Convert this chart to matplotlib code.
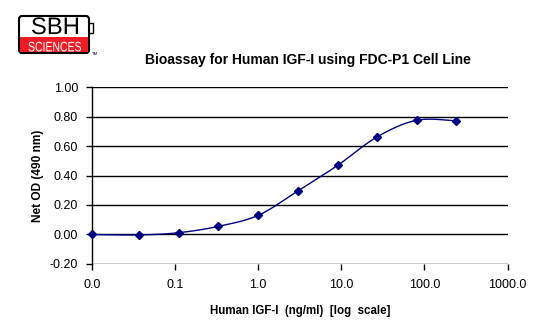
"""Bioassay curve for human IGF-I on the FDC-P1 cell line."""

import numpy as np
from matplotlib import pyplot as plt
from matplotlib.font_manager import FontProperties
from matplotlib.patches import FancyBboxPatch, PathPatch, Rectangle
from matplotlib.textpath import TextPath
from matplotlib.ticker import FixedLocator, FuncFormatter, NullLocator
from matplotlib.transforms import Affine2D

plt.rcParams["font.family"] = ["Liberation Sans", "DejaVu Sans"]

# 3-fold dilution series; the blank (0 ng/ml) sits on the axis origin at 0.01
conc_ng_ml = [0.01, 0.037, 0.11, 0.33, 1.0, 3.0, 9.0, 27.0, 81.0, 243.0]
net_od = [0.00, -0.003, 0.012, 0.055, 0.13, 0.295, 0.468, 0.662, 0.775, 0.770]

x_ticks = [0.01, 0.1, 1.0, 10.0, 100.0, 1000.0]
y_ticks = [-0.2, 0.0, 0.2, 0.4, 0.6, 0.8, 1.0]

NAVY = "#000080"


def smooth_curve(xs, ys, px_per_decade=83.0, px_per_unit=147.5, n=30):
    """Excel-style smoothed line: Catmull-Rom through the points in pixel space."""
    p = np.column_stack([np.log10(xs) * px_per_decade, np.asarray(ys) * px_per_unit])
    p = np.vstack([p[0], p, p[-1]])
    out = []
    t = np.linspace(0, 1, n)[:, None]
    for i in range(1, len(p) - 2):
        p0, p1, p2, p3 = p[i - 1], p[i], p[i + 1], p[i + 2]
        c1 = p1 + (p2 - p0) / 6
        c2 = p2 - (p3 - p1) / 6
        seg = ((1 - t) ** 3) * p1 + 3 * ((1 - t) ** 2) * t * c1 + 3 * (1 - t) * t ** 2 * c2 + t ** 3 * p2
        out.append(seg if i == 1 else seg[1:])
    seg = np.vstack(out)
    return 10 ** (seg[:, 0] / px_per_decade), seg[:, 1] / px_per_unit


def fit_text(ax, s, x0, x1, y_top, y_bot, color):
    """Squeeze a text outline into a pixel box (y axis points down)."""
    path = TextPath((0, 0), s, size=10, prop=FontProperties(family="Liberation Sans"))
    ext = path.get_extents()
    tr = (Affine2D().translate(-ext.x0, -ext.y0)
          .scale((x1 - x0) / ext.width, -(y_bot - y_top) / ext.height)
          .translate(x0, y_bot))
    ax.add_patch(PathPatch(tr.transform_path(path), facecolor=color, edgecolor="none"))


fig = plt.figure(figsize=(5.6, 3.25), dpi=100)
ax = fig.add_axes([0.1643, 0.1877, 0.7420, 0.5446])

cx, cy = smooth_curve(conc_ng_ml, net_od)
ax.plot(cx, cy, color=NAVY, linewidth=1.0, zorder=3)
ax.plot(conc_ng_ml, net_od, linestyle="none", marker="D", markersize=4.5,
        color=NAVY, zorder=4, clip_on=False)

ax.set_xscale("log")
ax.set_xlim(0.01, 1000)
ax.set_ylim(-0.2, 1.0)
ax.xaxis.set_major_locator(FixedLocator(x_ticks))
ax.xaxis.set_minor_locator(NullLocator())
ax.xaxis.set_major_formatter(FuncFormatter(lambda v, _: f"{v:.1f}"))
ax.yaxis.set_major_locator(FixedLocator(y_ticks))
ax.yaxis.set_major_formatter(FuncFormatter(lambda v, _: f"{v:.2f}"))

for y in y_ticks:
    ax.axhline(y, color="black", linewidth=1.0, zorder=1)
for side in ("top", "right", "bottom"):
    ax.spines[side].set_visible(False)
ax.spines["left"].set_linewidth(1.0)
ax.tick_params(axis="both", direction="out", length=4, width=1.0,
               labelsize=9, colors="black", pad=6)
ax.tick_params(axis="x", pad=7)

ax.set_xlabel("Human IGF-I  (ng/ml)  [log  scale]", fontsize=8.3, fontweight="bold", labelpad=10)
ax.set_ylabel("Net OD (490 nm)", fontsize=8.6, fontweight="bold", labelpad=4)
fig.text(0.55, 1 - 60 / 325, "Bioassay for Human IGF-I using FDC-P1 Cell Line",
         fontsize=10, fontweight="bold", ha="center", va="center")

# SBH Sciences logo, drawn in pixel units
W, H = 560, 325
logo = fig.add_axes([0, 0, 1, 1], zorder=-1)
logo.set_xlim(0, W)
logo.set_ylim(H, 0)
logo.axis("off")
logo.add_patch(Rectangle((88, 23), 5, 10, facecolor="white", edgecolor="black", linewidth=1.0))
logo.add_patch(FancyBboxPatch((19, 16), 70, 37, boxstyle="round,pad=0,rounding_size=3",
                              facecolor="white", edgecolor="black", linewidth=1.5))
logo.add_patch(Rectangle((19.8, 36.5), 68.4, 15.8, facecolor="#ee1c24", edgecolor="none"))
fit_text(logo, "SBH", 32, 78, 17.3, 34.3, "black")
fit_text(logo, "SCIENCES", 28.5, 81, 41.7, 51.5, "white")
logo.text(92, 54, "TM", fontsize=3, ha="left", va="center", color="black")

fig.savefig("out.png", dpi=100)
